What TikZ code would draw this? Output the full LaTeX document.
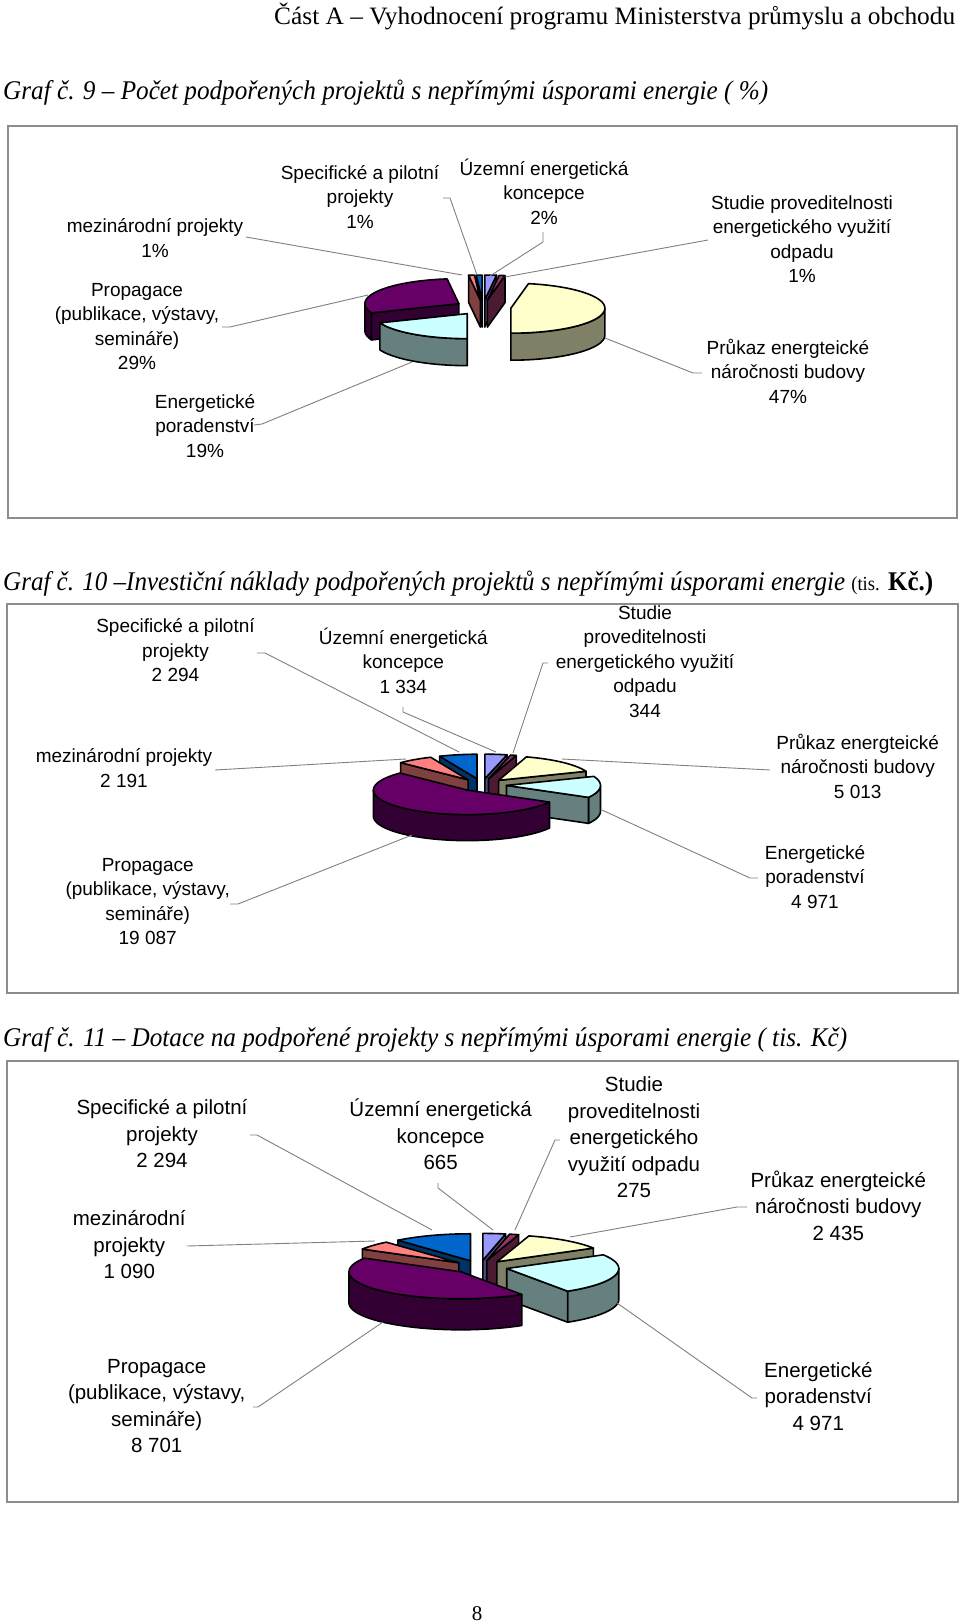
\documentclass[tikz,border=0pt]{standalone}
\usepackage{fontspec}
\usepackage{graphicx}
\setmainfont{Liberation Serif}
\newfontfamily\labfont{Liberation Sans}

\definecolor{cUz}{HTML}{9999FF}\definecolor{sUz}{HTML}{4D4D80}
\definecolor{cSt}{HTML}{993366}\definecolor{sSt}{HTML}{4D1A33}
\definecolor{cPr}{HTML}{FFFFCC}\definecolor{sPr}{HTML}{808066}
\definecolor{cEn}{HTML}{CCFFFF}\definecolor{sEn}{HTML}{668080}
\definecolor{cPg}{HTML}{660066}\definecolor{sPg}{HTML}{330033}
\definecolor{cMe}{HTML}{FF8080}\definecolor{sMe}{HTML}{804040}
\definecolor{cSp}{HTML}{0066CC}\definecolor{sSp}{HTML}{003366}
\definecolor{leadgray}{HTML}{808080}
\definecolor{framegray}{HTML}{8C8C8C}

\newcommand{\ml}[1]{\begin{tabular}[t]{@{}c@{}}#1\end{tabular}}

\newcommand{\pieset}[6]{\def\pcx{#1}\def\pcy{#2}\def\prx{#3}\def\pry{#4}\def\pdp{#5}\def\pex{#6}}
\newcommand{\pieslice}[4]{%
 \pgfmathsetmacro{\pmid}{(#1+#2)/2}%
 \pgfmathsetmacro{\pax}{\pcx+\pex*sin(\pmid)}%
 \pgfmathsetmacro{\pay}{\pcy-\pex*cos(\pmid)*\pry/\prx}%
 \pgfmathsetmacro{\pLo}{max(#1,90)}%
 \pgfmathsetmacro{\pHi}{min(#2,270)}%
 \pgfmathtruncatemacro{\pflag}{\pLo<\pHi}%
 \ifnum\pflag=1
  \filldraw[pieedge,fill=#4] plot[domain=\pLo:\pHi,samples=40,variable=\t] ({\pax+\prx*sin(\t)},{\pay-\pry*cos(\t)}) -- plot[domain=\pHi:\pLo,samples=40,variable=\t] ({\pax+\prx*sin(\t)},{\pay-\pry*cos(\t)+\pdp}) -- cycle;
 \fi
 \pgfmathtruncatemacro{\pflag}{sin(#1)<-0.001}%
 \ifnum\pflag=1
  \filldraw[pieedge,fill=#4] (\pax,\pay) -- ({\pax+\prx*sin(#1)},{\pay-\pry*cos(#1)}) -- ({\pax+\prx*sin(#1)},{\pay-\pry*cos(#1)+\pdp}) -- (\pax,{\pay+\pdp}) -- cycle;
 \fi
 \pgfmathtruncatemacro{\pflag}{sin(#2)>0.001}%
 \ifnum\pflag=1
  \filldraw[pieedge,fill=#4] (\pax,\pay) -- ({\pax+\prx*sin(#2)},{\pay-\pry*cos(#2)}) -- ({\pax+\prx*sin(#2)},{\pay-\pry*cos(#2)+\pdp}) -- (\pax,{\pay+\pdp}) -- cycle;
 \fi
 \filldraw[pieedge,fill=#3] (\pax,\pay) -- plot[domain=#1:#2,samples=60,variable=\t] ({\pax+\prx*sin(\t)},{\pay-\pry*cos(\t)}) -- cycle;
}

\tikzset{
 pieedge/.style={draw=black,line width=1.6pt,line join=round},
 leader/.style={draw=leadgray,line width=0.9pt},
 chartframe/.style={draw=framegray,line width=1.5pt},
 labA/.style={font=\labfont\fontsize{19}{24.5}\selectfont,anchor=base,inner sep=0pt},
 labC/.style={font=\labfont\fontsize{20.5}{26.5}\selectfont,anchor=base,inner sep=0pt},
 titlenode/.style={font=\fontsize{27}{30}\selectfont,anchor=base west,inner sep=0pt},
}

\begin{document}
\begin{tikzpicture}[x=1pt,y=-1pt]
\fill[white] (0,0) rectangle (960,1624);
\useasboundingbox (0,0) rectangle (960,1624);

% header and titles
\node[titlenode,font=\fontsize{25}{28}\selectfont] (head) at (274,25) {\resizebox{681pt}{\height}{Část A – Vyhodnocení programu Ministerstva průmyslu a obchodu}};
\node[titlenode] (t9) at (3,99.5) {\resizebox{765pt}{\height}{\itshape Graf č. 9 – Počet podpořených projektů s nepřímými úsporami energie ( \%)}};
\node[titlenode] (t10) at (3,590.5) {\resizebox{930pt}{\height}{\itshape Graf č. 10 –Investiční náklady podpořených projektů s nepřímými úsporami energie {\upshape\fontsize{20}{22}\selectfont (tis.} {\upshape\bfseries Kč.)}}};
\node[titlenode] (t11) at (3,1046.5) {\resizebox{844pt}{\height}{\itshape Graf č. 11 – Dotace na podpořené projekty s nepřímými úsporami energie ( tis. Kč)}};
\node[font=\fontsize{21}{24}\selectfont,anchor=base,inner sep=0pt] (pagenum) at (477,1620) {8};

% frames
\draw[chartframe] (8,126) rectangle (957,518);
\draw[chartframe] (7,604) rectangle (958,993);
\draw[chartframe] (7,1061) rectangle (958,1502);

% ---------------- chart 1 ----------------
\pieset{483}{307.5}{94}{25}{27}{28}
\pieslice{0}{7.2}{cUz}{sUz}
\pieslice{7.2}{10.8}{cSt}{sSt}
\pieslice{356.4}{360}{cSp}{sSp}
\pieslice{352.8}{356.4}{cMe}{sMe}
\pieslice{248.4}{352.8}{cPg}{sPg}
\pieslice{10.8}{180}{cPr}{sPr}
\pieslice{180}{248.4}{cEn}{sEn}

\node[labA] (me1) at (155,232.7) {\ml{mezinárodní projekty\\1\%}};
\node[labA] (sp1) at (360,179.3) {\ml{Specifické a pilotní\\projekty\\1\%}};
\node[labA] (pg1) at (137,296) {\ml{Propagace\\(publikace, výstavy,\\semináře)\\29\%}};
\node[labA] (en1) at (205,408.3) {\ml{Energetické\\poradenství\\19\%}};
\node[labA] (uz1) at (544,175.3) {\ml{Územní energetická\\koncepce\\2\%}};
\node[labA] (st1) at (802,209.3) {\ml{Studie proveditelnosti\\energetického využití\\odpadu\\1\%}};
\node[labA] (pr1) at (788,354.3) {\ml{Průkaz energteické\\náročnosti budovy\\47\%}};

\coordinate (me1a) at (246,237); \coordinate (me1b) at (462,275);
\coordinate (sp1a) at (443,198); \coordinate (sp1k) at (450,198); \coordinate (sp1b) at (477,275);
\coordinate (pg1a) at (222,327); \coordinate (pg1k) at (230,327); \coordinate (pg1b) at (368,295);
\coordinate (en1a) at (254,425); \coordinate (en1k) at (262,424); \coordinate (en1b) at (412,362);
\coordinate (uz1a) at (543,232); \coordinate (uz1k) at (543,242); \coordinate (uz1b) at (490,276);
\coordinate (st1a) at (708,240); \coordinate (st1b) at (505,277);
\coordinate (pr1a) at (702,373); \coordinate (pr1k) at (693,373); \coordinate (pr1b) at (605,338);
\draw[leader] (me1a) -- (me1b);
\draw[leader] (sp1a) -- (sp1k) -- (sp1b);
\draw[leader] (pg1a) -- (pg1k) -- (pg1b);
\draw[leader] (en1a) -- (en1k) -- (en1b);
\draw[leader] (uz1a) -- (uz1k) -- (uz1b);
\draw[leader] (st1a) -- (st1b);
\draw[leader] (pr1a) -- (pr1k) -- (pr1b);

% ---------------- chart 2 ----------------
\pieset{482}{785}{94}{24.5}{26}{24.5}
\pieslice{0}{13.63}{cUz}{sUz}
\pieslice{336.56}{360}{cSp}{sSp}
\pieslice{13.63}{17.15}{cSt}{sSt}
\pieslice{314.18}{336.56}{cMe}{sMe}
\pieslice{17.15}{68.37}{cPr}{sPr}
\pieslice{68.37}{119.16}{cEn}{sEn}
\pieslice{119.16}{314.18}{cPg}{sPg}

\node[labA] (sp2) at (175.5,632.7) {\ml{Specifické a pilotní\\projekty\\2 294}};
\node[labA] (uz2) at (403.3,644.3) {\ml{Územní energetická\\koncepce\\1 334}};
\node[labA] (me2) at (124,762.7) {\ml{mezinárodní projekty\\2 191}};
\node[labA] (pg2) at (147.7,871) {\ml{Propagace\\(publikace, výstavy,\\semináře)\\19 087}};
\node[labA] (st2) at (645,619.3) {\ml{Studie\\proveditelnosti\\energetického využití\\odpadu\\344}};
\node[labA] (pr2) at (857.7,749.3) {\ml{Průkaz energteické\\náročnosti budovy\\5 013}};
\node[labA] (en2) at (815,859.3) {\ml{Energetické\\poradenství\\4 971}};

\coordinate (sp2a) at (257,653); \coordinate (sp2k) at (265,653); \coordinate (sp2b) at (459,752);
\coordinate (uz2a) at (403,707); \coordinate (uz2k) at (403,712); \coordinate (uz2b) at (496,752);
\coordinate (st2a) at (548,663); \coordinate (st2k) at (543,663); \coordinate (st2b) at (513,753);
\coordinate (me2a) at (215,770); \coordinate (me2b) at (406,759);
\coordinate (pg2a) at (230,904); \coordinate (pg2k) at (238,904); \coordinate (pg2b) at (412,835);
\coordinate (pr2a) at (770,770); \coordinate (pr2b) at (562,759);
\coordinate (en2a) at (758,878); \coordinate (en2k) at (750,878); \coordinate (en2b) at (602,810);
\draw[leader] (sp2a) -- (sp2k) -- (sp2b);
\draw[leader] (uz2a) -- (uz2k) -- (uz2b);
\draw[leader] (st2a) -- (st2k) -- (st2b);
\draw[leader] (me2a) -- (me2b);
\draw[leader] (pg2a) -- (pg2k) -- (pg2b);
\draw[leader] (pr2a) -- (pr2b);
\draw[leader] (en2a) -- (en2k) -- (en2b);

% ---------------- chart 3 ----------------
\pieset{480}{1267}{112}{27}{31}{27.5}
\pieslice{0}{11.72}{cUz}{sUz}
\pieslice{11.72}{16.57}{cSt}{sSt}
\pieslice{319.59}{360}{cSp}{sSp}
\pieslice{16.57}{59.48}{cPr}{sPr}
\pieslice{300.38}{319.59}{cMe}{sMe}
\pieslice{59.48}{147.07}{cEn}{sEn}
\pieslice{147.07}{300.38}{cPg}{sPg}

\node[labC] (sp3) at (162,1114.8) {\ml{Specifické a pilotní\\projekty\\2 294}};
\node[labC] (uz3) at (440.6,1116.5) {\ml{Územní energetická\\koncepce\\665}};
\node[labC] (me3) at (129.3,1225.5) {\ml{mezinárodní\\projekty\\1 090}};
\node[labC] (pg3) at (156.7,1373.2) {\ml{Propagace\\(publikace, výstavy,\\semináře)\\8 701}};
\node[labC] (st3) at (634,1091.5) {\ml{Studie\\proveditelnosti\\energetického\\využití odpadu\\275}};
\node[labC] (pr3) at (838.3,1187.2) {\ml{Průkaz energteické\\náročnosti budovy\\2 435}};
\node[labC] (en3) at (818.3,1377.2) {\ml{Energetické\\poradenství\\4 971}};

\coordinate (sp3a) at (250,1135); \coordinate (sp3k) at (257,1135); \coordinate (sp3b) at (432,1230);
\coordinate (uz3a) at (438,1183); \coordinate (uz3k) at (438,1188); \coordinate (uz3b) at (493,1230);
\coordinate (st3a) at (560,1140); \coordinate (st3k) at (555,1140); \coordinate (st3b) at (515,1230);
\coordinate (me3a) at (187,1246); \coordinate (me3b) at (375,1241);
\coordinate (pg3a) at (253,1407); \coordinate (pg3k) at (258,1407); \coordinate (pg3b) at (383,1322);
\coordinate (pr3a) at (747,1207); \coordinate (pr3k) at (737,1207); \coordinate (pr3b) at (570,1237);
\coordinate (en3a) at (757,1398); \coordinate (en3k) at (752,1398); \coordinate (en3b) at (617,1303);
\draw[leader] (sp3a) -- (sp3k) -- (sp3b);
\draw[leader] (uz3a) -- (uz3k) -- (uz3b);
\draw[leader] (st3a) -- (st3k) -- (st3b);
\draw[leader] (me3a) -- (me3b);
\draw[leader] (pg3a) -- (pg3k) -- (pg3b);
\draw[leader] (pr3a) -- (pr3k) -- (pr3b);
\draw[leader] (en3a) -- (en3k) -- (en3b);
\end{tikzpicture}
\end{document}
